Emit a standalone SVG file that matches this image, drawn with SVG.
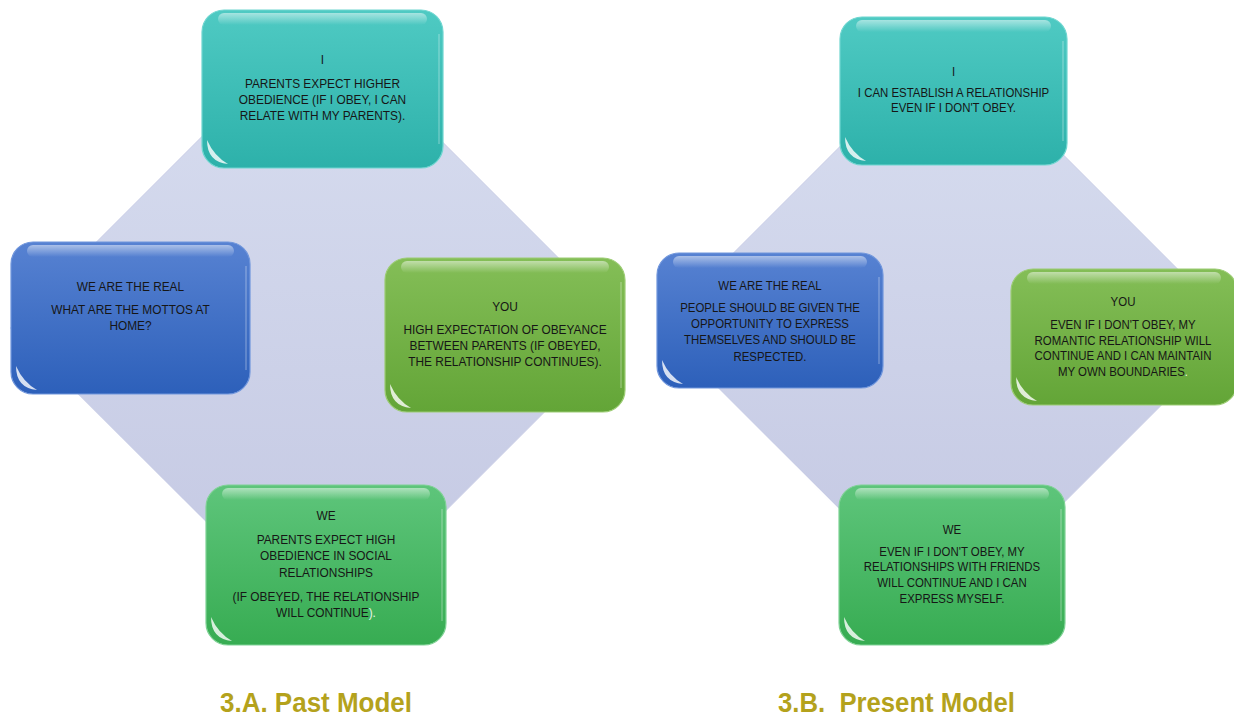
<svg xmlns="http://www.w3.org/2000/svg" width="1234" height="716" viewBox="0 0 1234 716">
<style>
.t{font-family:"Liberation Sans",Arial,sans-serif;font-size:13.5px;fill:#161616;text-anchor:middle}
.s{font-size:13px}
.lt{fill:#e6f3e6}
.ttl{font-family:"Liberation Sans",Arial,sans-serif;font-weight:bold;font-size:28px;fill:#b4a21c;text-anchor:middle}
.hi{fill:url(#gHi)}
.cr{fill:#ffffff;fill-opacity:0.8}
.re{stroke:#ffffff;stroke-opacity:0.2;stroke-width:2;fill:none}
</style>
<defs>
<linearGradient id="gBg" x1="0" y1="0" x2="0" y2="1"><stop offset="0" stop-color="#d8def0"/><stop offset="1" stop-color="#c3c7e2"/></linearGradient>
<linearGradient id="gCyan" x1="0" y1="0" x2="0" y2="1"><stop offset="0" stop-color="#4fcac3"/><stop offset="1" stop-color="#2db1aa"/></linearGradient>
<linearGradient id="gBlue" x1="0" y1="0" x2="0" y2="1"><stop offset="0" stop-color="#5782d2"/><stop offset="1" stop-color="#2d60ba"/></linearGradient>
<linearGradient id="gLime" x1="0" y1="0" x2="0" y2="1"><stop offset="0" stop-color="#84be57"/><stop offset="1" stop-color="#63a537"/></linearGradient>
<linearGradient id="gGreen" x1="0" y1="0" x2="0" y2="1"><stop offset="0" stop-color="#5ec57b"/><stop offset="1" stop-color="#37ac52"/></linearGradient>
<linearGradient id="gHi" x1="0" y1="0" x2="0" y2="1"><stop offset="0" stop-color="#ffffff" stop-opacity="0.5"/><stop offset="1" stop-color="#ffffff" stop-opacity="0"/></linearGradient>
</defs>
<rect width="1234" height="716" fill="#ffffff"/>

<g id="bg-past">
<polygon points="319.5,19 622,321.5 622,334.5 319.5,637 10.5,328" fill="url(#gBg)" stroke="#c8cce5" stroke-width="1"/>
<line x1="12" y1="330" x2="318" y2="635" stroke="#ffffff" stroke-width="2"/>
</g>
<g id="bg-present">
<polygon points="947.5,39 1237.5,329 947.5,619 657.5,329" fill="url(#gBg)" stroke="#c8cce5" stroke-width="1"/>
<line x1="659.5" y1="331" x2="946" y2="617" stroke="#ffffff" stroke-width="2"/>
</g>

<g id="past-i" transform="translate(202,10)">
<rect width="241" height="158" rx="22" fill="url(#gCyan)" stroke="#6fd6d0" stroke-width="1.2"/>
<rect class="hi" x="16" y="3" width="209" height="12" rx="6"/>
<path class="re" d="M237,24 V134"/>
<path class="cr" d="M5,130 Q5,152 26,154 Q12,146 5,130 Z"/>
<g transform="translate(120.5 0) scale(0.88 1)">
<text class="t" x="0" y="54">I</text>
<text class="t" x="0" y="78">PARENTS EXPECT HIGHER</text>
<text class="t" x="0" y="94">OBEDIENCE (IF I OBEY, I CAN</text>
<text class="t" x="0" y="110">RELATE WITH MY PARENTS).</text>
</g>
</g>

<g id="past-real" transform="translate(11,242)">
<rect width="239" height="152" rx="22" fill="url(#gBlue)" stroke="#7096dc" stroke-width="1.2"/>
<rect class="hi" x="16" y="3" width="207" height="12" rx="6"/>
<path class="re" d="M235,24 V128"/>
<path class="cr" d="M5,124 Q5,146 26,148 Q12,140 5,124 Z"/>
<g transform="translate(119.5 0) scale(0.88 1)">
<text class="t" x="0" y="49">WE ARE THE REAL</text>
<text class="t" x="0" y="72">WHAT ARE THE MOTTOS AT</text>
<text class="t" x="0" y="88">HOME?</text>
</g>
</g>

<g id="past-you" transform="translate(385,258)">
<rect width="240" height="154" rx="22" fill="url(#gLime)" stroke="#9ccc74" stroke-width="1.2"/>
<rect class="hi" x="16" y="3" width="208" height="12" rx="6"/>
<path class="re" d="M236,24 V130"/>
<path class="cr" d="M5,126 Q5,148 26,150 Q12,142 5,126 Z"/>
<g transform="translate(120 0) scale(0.88 1)">
<text class="t" x="0" y="53">YOU</text>
<text class="t" x="0" y="76">HIGH EXPECTATION OF OBEYANCE</text>
<text class="t" x="0" y="92">BETWEEN PARENTS (IF OBEYED,</text>
<text class="t" x="0" y="108">THE RELATIONSHIP CONTINUES).</text>
</g>
</g>

<g id="past-we" transform="translate(206,485)">
<rect width="240" height="160" rx="22" fill="url(#gGreen)" stroke="#7fd295" stroke-width="1.2"/>
<rect class="hi" x="16" y="3" width="208" height="12" rx="6"/>
<path class="re" d="M236,24 V136"/>
<path class="cr" d="M5,132 Q5,154 26,156 Q12,148 5,132 Z"/>
<g transform="translate(120 0) scale(0.88 1)">
<text class="t" x="0" y="35">WE</text>
<text class="t" x="0" y="59">PARENTS EXPECT HIGH</text>
<text class="t" x="0" y="75">OBEDIENCE IN SOCIAL</text>
<text class="t" x="0" y="92">RELATIONSHIPS</text>
<text class="t" x="0" y="116">(IF OBEYED, THE RELATIONSHIP</text>
<text class="t" x="0" y="132">WILL CONTINUE<tspan class="lt">).</tspan></text>
</g>
</g>

<g id="present-i" transform="translate(840,17)">
<rect width="227" height="148" rx="22" fill="url(#gCyan)" stroke="#6fd6d0" stroke-width="1.2"/>
<rect class="hi" x="16" y="3" width="195" height="12" rx="6"/>
<path class="re" d="M223,24 V124"/>
<path class="cr" d="M5,120 Q5,142 26,144 Q12,136 5,120 Z"/>
<g transform="translate(113.5 0) scale(0.88 1)">
<text class="t s" x="0" y="59">I</text>
<text class="t s" x="0" y="80">I CAN ESTABLISH A RELATIONSHIP</text>
<text class="t s" x="0" y="95">EVEN IF I DON'T OBEY.</text>
</g>
</g>

<g id="present-real" transform="translate(657,253)">
<rect width="226" height="135" rx="22" fill="url(#gBlue)" stroke="#7096dc" stroke-width="1.2"/>
<rect class="hi" x="16" y="3" width="194" height="12" rx="6"/>
<path class="re" d="M222,24 V111"/>
<path class="cr" d="M5,107 Q5,129 26,131 Q12,123 5,107 Z"/>
<g transform="translate(113 0) scale(0.88 1)">
<text class="t s" x="0" y="37">WE ARE THE REAL</text>
<text class="t s" x="0" y="59">PEOPLE SHOULD BE GIVEN THE</text>
<text class="t s" x="0" y="75">OPPORTUNITY TO EXPRESS</text>
<text class="t s" x="0" y="91">THEMSELVES AND SHOULD BE</text>
<text class="t s" x="0" y="108">RESPECTED.</text>
</g>
</g>

<g id="present-you" transform="translate(1011,269)">
<rect width="226" height="136" rx="22" fill="url(#gLime)" stroke="#9ccc74" stroke-width="1.2"/>
<rect class="hi" x="16" y="3" width="194" height="12" rx="6"/>
<path class="cr" d="M5,108 Q5,130 26,132 Q12,124 5,108 Z"/>
<g transform="translate(112 0) scale(0.88 1)">
<text class="t s" x="0" y="37">YOU</text>
<text class="t s" x="0" y="60">EVEN IF I DON'T OBEY, MY</text>
<text class="t s" x="0" y="76">ROMANTIC RELATIONSHIP WILL</text>
<text class="t s" x="0" y="91">CONTINUE AND I CAN MAINTAIN</text>
<text class="t s" x="0" y="107">MY OWN BOUNDARIES<tspan class="lt">.</tspan></text>
</g>
</g>

<g id="present-we" transform="translate(839,485)">
<rect width="226" height="160" rx="22" fill="url(#gGreen)" stroke="#7fd295" stroke-width="1.2"/>
<rect class="hi" x="16" y="3" width="194" height="12" rx="6"/>
<path class="re" d="M222,24 V136"/>
<path class="cr" d="M5,132 Q5,154 26,156 Q12,148 5,132 Z"/>
<g transform="translate(113 0) scale(0.88 1)">
<text class="t s" x="0" y="49">WE</text>
<text class="t s" x="0" y="71">EVEN IF I DON'T OBEY, MY</text>
<text class="t s" x="0" y="86">RELATIONSHIPS WITH FRIENDS</text>
<text class="t s" x="0" y="102">WILL CONTINUE AND I CAN</text>
<text class="t s" x="0" y="118">EXPRESS MYSELF.</text>
</g>
</g>

<g id="titles">
<text class="ttl" x="316" y="712" textLength="192" lengthAdjust="spacingAndGlyphs">3.A. Past Model</text>
<text class="ttl" x="896.5" y="712" textLength="237" lengthAdjust="spacingAndGlyphs">3.B.&#160; Present Model</text>
</g>
</svg>
